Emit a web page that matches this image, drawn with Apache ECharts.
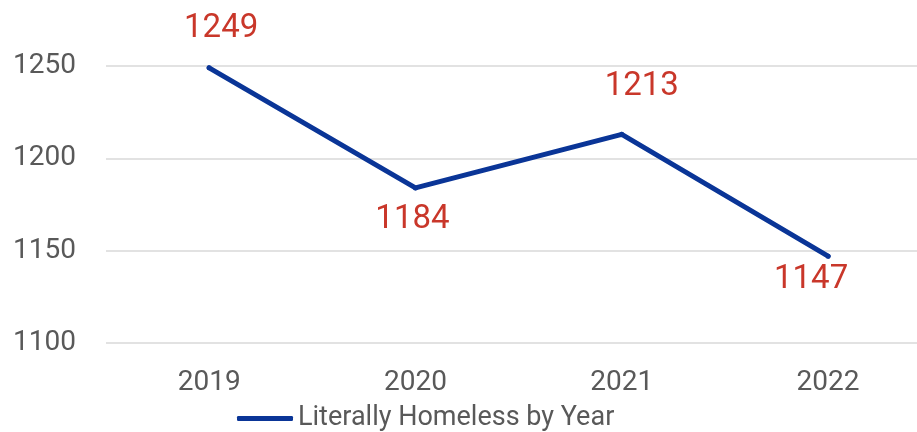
<!DOCTYPE html>
<html>
<head>
<meta charset="utf-8">
<script src="https://cdn.jsdelivr.net/npm/echarts@6/dist/echarts.min.js"></script>
<style>
html,body{margin:0;padding:0;background:#fff;}
#chart{width:917px;height:432px;}
</style>
</head>
<body>
<div id="chart"></div>
<script>
// ---- data ----
const categories = ['2019', '2020', '2021', '2022'];
const seriesName = 'Literally Homeless by Year';
const values = [1249, 1184, 1213, 1147];
const yTicks = [1100, 1150, 1200, 1250];

// ---- label placement (style, per point) ----
const labelOffsets = [[12, -39], [-3, 32], [20, -48], [-17, 24]];

const chart = echarts.init(document.getElementById('chart'), null, {renderer: 'canvas'});
const FONT = 'Roboto';
const catIndex = categories.map((c, i) => i);

const option = {
  animation: false,
  backgroundColor: '#ffffff',
  grid: { left: 106, right: 0, top: 66, bottom: 89, containLabel: false },
  legend: {
    data: [seriesName],
    left: 232,
    top: 400,
    icon: 'roundRect',
    itemWidth: 56,
    itemHeight: 5,
    textStyle: { fontFamily: FONT, fontSize: 27, color: '#595959' }
  },
  xAxis: {
    type: 'value',
    min: -0.5,
    max: 3.431,
    axisLine: { show: false },
    axisTick: { show: false },
    splitLine: { show: false },
    axisLabel: {
      customValues: catIndex,
      showMinLabel: true, showMaxLabel: true,
      hideOverlap: false,
      formatter: v => categories[Math.round(v)] || '',
      fontFamily: FONT, fontSize: 28, color: '#595959', margin: 26
    }
  },
  yAxis: {
    type: 'value',
    min: yTicks[0],
    max: yTicks[yTicks.length - 1],
    interval: 50,
    axisLine: { show: false },
    axisTick: { show: false },
    axisLabel: { fontFamily: FONT, fontSize: 28, color: '#595959', margin: 30, formatter: v => String(v) },
    splitLine: { lineStyle: { color: '#d9d9d9', width: 1.5 } }
  },
  series: [{
    name: seriesName,
    type: 'line',
    data: values.map((v, i) => ({
      value: [catIndex[i], v],
      label: { offset: labelOffsets[i] }
    })),
    symbol: 'circle',
    symbolSize: 5,
    showSymbol: true,
    lineStyle: { color: '#0a3597', width: 5, cap: 'round', join: 'round' },
    itemStyle: { color: '#0a3597' },
    label: {
      show: true,
      position: 'inside',
      fontFamily: FONT,
      fontSize: 33,
      color: '#c9372a',
      formatter: p => String(p.value[1])
    }
  }]
};
chart.setOption(option);
</script>
</body>
</html>
